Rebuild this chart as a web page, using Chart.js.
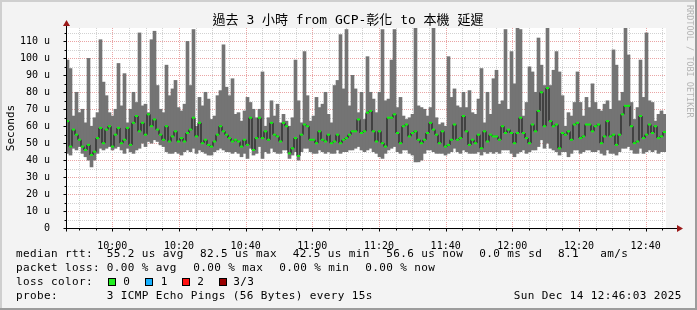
<!DOCTYPE html>
<html>
<head>
<meta charset="utf-8">
<script src="https://cdn.jsdelivr.net/npm/chart.js@4.4.1/dist/chart.umd.min.js"></script>
<style>
  html, body { margin: 0; padding: 0; background: #f3f3f3; }
  #wrap { width: 697px; height: 310px; }
</style>
</head>
<body>
<div id="wrap"><canvas id="smokeChart" width="697" height="310"></canvas></div>
<script>
// smoke (min..max of the 3 pings) and median rtt, microseconds, oldest first
var smokeMax = [
  99,94,66,80,68,70,62,100,60,65,68,111,86,78,68,66,70,97,72,91,62,70,80,74,115,72,73,68,111,116,84,70,68,
  96,78,82,87,71,69,73,110,84,117,60,77,72,80,76,64,66,78,81,108,83,78,88,67,68,63,69,77,74,70,65,70,92,60,
  65,75,66,73,62,67,63,60,65,99,75,62,104,78,63,66,77,71,73,80,67,62,84,87,114,82,117,72,90,82,68,80,64,
  101,80,76,68,80,117,75,76,99,117,71,77,66,64,65,67,118,72,71,70,66,71,118,65,61,62,60,101,77,82,72,71,80,71,
  81,68,67,76,94,62,80,67,88,93,73,75,117,70,104,85,118,117,66,74,95,92,80,112,96,84,118,84,93,104,92,78,60,
  68,66,74,92,74,66,77,71,85,74,70,69,73,75,70,105,96,75,80,118,102,74,64,71,99,77,115,75,74,63,67,69,67
];
var medianRtt = [
  63,48,58,55,52,48,46,49,43,45,53,59,50,58,60,48,55,59,50,52,59,49,62,66,57,62,55,67,60,64,58,55,52,
  60,51,54,57,51,53,51,56,58,65,54,62,50,52,49,48,51,55,60,57,55,53,51,52,51,48,52,49,65,46,53,65,53,57,
  52,62,55,54,51,62,60,44,47,53,42.5,55,61,60,52,52,50,57,52,51,55,50,51,55,50,52,53,55,57,57,64,56,57,
  68,69,57,51,57,50,48,65,65,67,56,50,60,61,54,56,57,52,50,52,56,62,58,55,50,57,48,49,52,61,52,53,66,57,
  49,52,50,55,47,57,51,55,54,54,52,60,56,58,56,50,56,65,56,53,50,61,57,69,80,60,82.5,63,60,61,47,56,55,
  57,52,61,62,53,54,61,61,57,60,61,50,54,63,54,55,49,55,67,72,72,60,50,51,66,53,55,61,56,60,53,54,56.6
];
var smokeMin = [
  44,43,47,46,48,44,42,40,36,40,44,47,46,47,48,46,47,48,46,44,47,45,44,46,47,50,48,51,50,52,51,49,48,
  45,44,44,45,44,43,45,46,45,47,44,46,45,44,43,43,45,46,47,46,45,45,44,45,44,42,44,41,47,43,44,48,41,45,
  44,47,45,44,44,46,46,41,43,45,40,45,47,47,45,44,44,46,45,44,45,44,44,46,44,45,45,46,46,47,48,46,45,
  46,47,45,44,42,41,44,46,47,48,45,44,46,46,44,43,39,39,40,44,46,46,45,44,44,44,43,44,45,47,45,44,46,45,
  44,44,44,45,43,45,44,45,44,45,44,46,46,46,44,42,44,45,46,44,45,46,46,48,52,47,50,47,46,45,43,45,45,
  42,44,46,46,44,45,46,46,45,45,46,44,43,46,44,44,43,45,47,47,48,46,44,44,47,44,45,46,45,46,44,45,45
];
var xTickLabels = ['10:00','10:20','10:40','11:00','11:20','11:40','12:00','12:20','12:40'];
var yTickLabels = ['0','10 u','20 u','30 u','40 u','50 u','60 u','70 u','80 u','90 u','100 u','110 u'];

// time axis in minutes after midnight, 3 hours ending 12:46
var startMin = 586.1, endMin = 766.1;
var stepMin = (endMin - startMin) / medianRtt.length;
var times = medianRtt.map(function(v, i) { return startMin + stepMin * (i + 0.5); });

var MONO = '"DejaVu Sans Mono", monospace';

function dotted(ctx, x1, y1, x2, y2, color) {
    ctx.save();
    ctx.strokeStyle = color;
    ctx.lineWidth = 1;
    ctx.setLineDash([1, 1]);
    ctx.beginPath();
    ctx.moveTo(x1, y1);
    ctx.lineTo(x2, y2);
    ctx.stroke();
    ctx.restore();
}

var rrdLook = {
    id: 'rrdLook',
    beforeDraw: function(chart) {
        var ctx = chart.ctx, a = chart.chartArea;
        ctx.save();
        ctx.fillStyle = '#f3f3f3';
        ctx.fillRect(0, 0, chart.width, chart.height);
        ctx.fillStyle = '#ffffff';
        ctx.fillRect(a.left, a.top, a.right - a.left, a.bottom - a.top);
        ctx.restore();
    },
    beforeDatasetsDraw: function(chart) {
        var ctx = chart.ctx, a = chart.chartArea;
        var xs = chart.scales.x, ys = chart.scales.y;
        for (var m = 590; m <= 765; m += 5) {
            var px = Math.round(xs.getPixelForValue(m)) + 0.5;
            dotted(ctx, px, a.top, px, a.bottom, m % 20 === 0 ? '#eaa5a5' : '#d2d2d2');
        }
        for (var v = 5; v <= 115; v += 5) {
            var py = Math.round(ys.getPixelForValue(v)) + 0.5;
            dotted(ctx, a.left, py, a.right, py, v % 10 === 0 ? '#eaa5a5' : '#d2d2d2');
        }
    },
    afterDatasetsDraw: function(chart) {
        var ctx = chart.ctx, a = chart.chartArea;
        var xs = chart.scales.x, ys = chart.scales.y;
        var x0 = Math.round(a.left) + 0.5, y0 = Math.round(a.bottom) + 0.5;
        ctx.save();
        ctx.strokeStyle = '#000000';
        ctx.lineWidth = 1;
        ctx.beginPath();
        ctx.moveTo(x0 - 3, y0); ctx.lineTo(a.right + 12, y0);
        ctx.moveTo(x0, y0 + 3); ctx.lineTo(x0, a.top - 3);
        // ticks
        for (var m = 590; m <= 765; m += 5) {
            var px = Math.round(xs.getPixelForValue(m)) + 0.5;
            ctx.moveTo(px, y0); ctx.lineTo(px, y0 + (m % 20 === 0 ? 3 : 2));
        }
        for (var v = 5; v <= 115; v += 5) {
            var py = Math.round(ys.getPixelForValue(v)) + 0.5;
            ctx.moveTo(x0, py); ctx.lineTo(x0 - (v % 10 === 0 ? 3 : 2), py);
        }
        ctx.stroke();
        // arrows
        ctx.fillStyle = '#9b1a1a';
        ctx.beginPath();
        ctx.moveTo(a.right + 11, y0 - 3.5); ctx.lineTo(a.right + 17, y0); ctx.lineTo(a.right + 11, y0 + 3.5);
        ctx.closePath(); ctx.fill();
        ctx.beginPath();
        ctx.moveTo(x0 - 3.5, a.top - 2); ctx.lineTo(x0, a.top - 8); ctx.lineTo(x0 + 3.5, a.top - 2);
        ctx.closePath(); ctx.fill();
        ctx.restore();
    },
    afterDraw: function(chart) {
        var ctx = chart.ctx;
        ctx.save();
        ctx.fillStyle = '#000000';
        ctx.textBaseline = 'middle';

        // title
        ctx.font = '13px ' + MONO + ', "Noto Sans CJK TC"';
        ctx.textAlign = 'center';
        ctx.fillText('過去 3 小時 from GCP-彰化 to 本機 延遲', 348, 21);

        // y axis title
        ctx.save();
        ctx.translate(11, 128);
        ctx.rotate(-Math.PI / 2);
        ctx.font = '11px ' + MONO;
        ctx.fillText('Seconds', 0, 0);
        ctx.restore();

        // rrdtool tag
        ctx.save();
        ctx.translate(689, 5);
        ctx.rotate(Math.PI / 2);
        ctx.textAlign = 'left';
        ctx.fillStyle = '#b4b4b4';
        ctx.font = '8.5px ' + MONO;
        ctx.fillText('RRDTOOL / TOBI OETIKER', 0, 0);
        ctx.restore();

        // legend rows
        ctx.textAlign = 'left';
        ctx.font = '11px ' + MONO;
        if ('letterSpacing' in ctx) ctx.letterSpacing = '0.38px';
        var rows = [
            [254, [[16, 'median rtt:'], [106.7, '55.2 us avg'], [200, '82.5 us max'], [292.7, '42.5 us min'],
                   [386.3, '56.6 us now'], [479.3, '0.0 ms sd'], [558, '8.1'], [600.3, 'am/s']]],
            [268, [[16, 'packet loss:'], [106.7, '0.00 % avg'], [193.3, '0.00 % max'], [279.3, '0.00 % min'],
                   [365.3, '0.00 % now']]],
            [282, [[16, 'loss color:'], [123.3, '0'], [160.7, '1'], [197.3, '2'], [233.3, '3/3']]],
            [296, [[16, 'probe:'], [106.7, '3 ICMP Echo Pings (56 Bytes) every 15s'], [513.7, 'Sun Dec 14 12:46:03 2025']]]
        ];
        rows.forEach(function(r) {
            r[1].forEach(function(t) { ctx.fillText(t[1], t[0], r[0]); });
        });
        var boxes = [[108, '#22ee22'], [145, '#16b0ff'], [182, '#ff1111'], [219, '#990000']];
        boxes.forEach(function(b) {
            ctx.fillStyle = b[1];
            ctx.fillRect(b[0], 278, 8, 8);
            ctx.strokeStyle = '#000000';
            ctx.lineWidth = 1;
            ctx.strokeRect(b[0] + 0.5, 278.5, 7, 7);
        });

        // frame
        ctx.fillStyle = '#cfcfcf';
        ctx.fillRect(0, 0, chart.width, 2);
        ctx.fillRect(0, 0, 2, chart.height);
        ctx.fillStyle = '#9c9c9c';
        ctx.fillRect(0, chart.height - 2, chart.width, 2);
        ctx.fillRect(chart.width - 2, 0, 2, chart.height);
        ctx.restore();
    }
};

var ctx = document.getElementById('smokeChart').getContext('2d');
var smokeChart = new Chart(ctx, {
    type: 'bar',
    data: {
        datasets: [{
            type: 'bar',
            label: 'smoke',
            data: times.map(function(t, i) { return { x: t, y: [smokeMin[i], smokeMax[i]] }; }),
            backgroundColor: '#747474',
            borderWidth: 0,
            barPercentage: 1,
            categoryPercentage: 1,
            order: 2
        }, {
            type: 'line',
            label: 'median rtt',
            data: times.map(function(t, i) { return { x: t, y: medianRtt[i] }; }),
            stepped: 'middle',
            borderColor: '#111111',
            borderWidth: 1,
            pointStyle: 'line',
            pointRadius: 1.5,
            pointBorderWidth: 2,
            pointBorderColor: '#11ee11',
            pointBackgroundColor: '#11ee11',
            order: 1
        }]
    },
    options: {
        responsive: false,
        animation: false,
        devicePixelRatio: 1,
        layout: { padding: { left: 0, top: 28, right: 31, bottom: 0 } },
        plugins: { legend: { display: false }, tooltip: { enabled: false } },
        scales: {
            x: {
                type: 'linear',
                min: startMin,
                max: endMin,
                offset: false,
                grid: { display: false },
                border: { display: false },
                afterBuildTicks: function(s) {
                    s.ticks = xTickLabels.map(function(l, i) { return { value: 600 + 20 * i }; });
                },
                afterFit: function(s) { s.height = 82; },
                ticks: {
                    autoSkip: false,
                    maxRotation: 0,
                    padding: 4,
                    color: '#000000',
                    font: { family: 'DejaVu Sans Mono', size: 10 },
                    callback: function(v, i) { return xTickLabels[i]; }
                }
            },
            y: {
                min: 0,
                max: 117.9,
                grid: { display: false },
                border: { display: false },
                afterBuildTicks: function(s) {
                    s.ticks = yTickLabels.map(function(l, i) { return { value: 10 * i }; });
                },
                afterFit: function(s) { s.width = 66; },
                ticks: {
                    autoSkip: false,
                    padding: 8,
                    color: '#000000',
                    font: { family: 'DejaVu Sans Mono', size: 10 },
                    callback: function(v, i) { return yTickLabels[i]; }
                }
            }
        }
    },
    plugins: [rrdLook]
});
</script>
</body>
</html>
